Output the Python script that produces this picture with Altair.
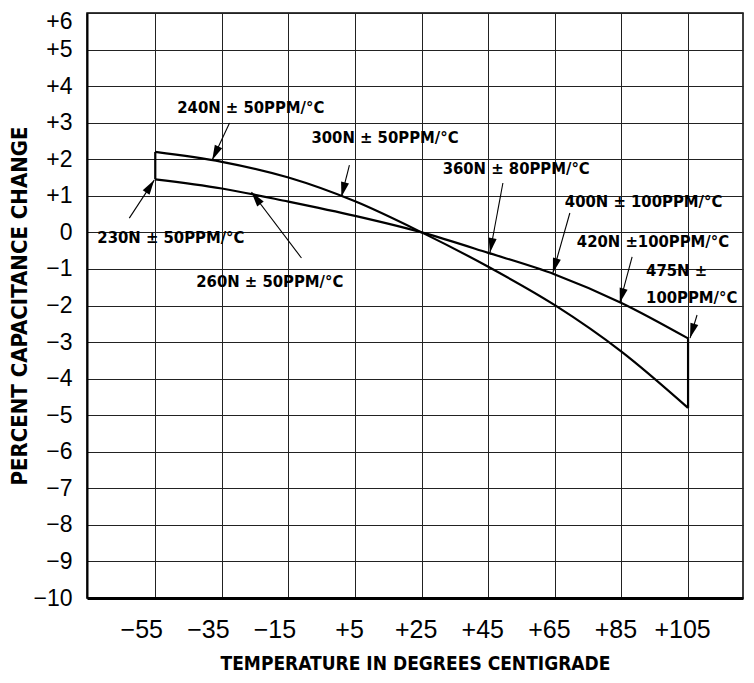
import math
import altair as alt
import pandas as pd

# ---- data ----
temps = [-55, -35, -15, 5, 25, 45, 65, 85, 105]
curve_a = [2.2, 1.93, 1.5, 0.85, 0.0, -0.94, -1.99, -3.26, -4.8]
curve_b = [1.45, 1.2, 0.84, 0.45, 0.0, -0.56, -1.15, -1.93, -2.9]

x_ticks = [-55, -35, -15, 5, 25, 45, 65, 85, 105]
y_ticks = list(range(-10, 7))

end_x = [-55, 105]
end_lo = [1.45, -4.8]
end_hi = [2.2, -2.9]

labels = ["240N \u00b1 50PPM/\u00b0C", "300N \u00b1 50PPM/\u00b0C", "360N \u00b1 80PPM/\u00b0C",
          "400N \u00b1 100PPM/\u00b0C", "420N \u00b1100PPM/\u00b0C", "475N \u00b1",
          "100PPM/\u00b0C", "230N \u00b1 50PPM/\u00b0C", "260N \u00b1 50PPM/\u00b0C"]
label_x = [-48.4, -8.1, 31.3, 68.0, 71.6, 92.4, 92.4, -72.4, -42.7]
label_y = [3.40, 2.58, 1.73, 0.83, -0.26, -1.07, -1.80, -0.15, -1.36]

arrow_x0 = [-32.7, 3.3, 49.4, 69.5, 88.2, 107.7, -62.8, -11.1]
arrow_y0 = [2.99, 1.84, 1.35, 0.53, -0.67, -2.26, 0.39, -0.70]
arrow_x1 = [-37.9, 0.9, 45.5, 64.4, 84.5, 105.6, -55.3, -26.1]
arrow_y1 = [1.98, 0.97, -0.56, -1.11, -1.93, -2.89, 1.43, 1.10]

X_DOMAIN = [-75.5, 121.5]
Y_DOMAIN = [-10, 6]
W, H = 656, 585

COND = "DejaVu Sans Condensed, sans-serif"

# ---- tables ----
curves = pd.DataFrame({
    "t": temps + temps,
    "v": curve_a + curve_b,
    "s": ["A"] * len(temps) + ["B"] * len(temps),
})
ends = pd.DataFrame({"x": end_x, "y": end_lo, "y2": end_hi})
texts = pd.DataFrame({"x": label_x, "y": label_y, "t": labels})

px_x = W / (X_DOMAIN[1] - X_DOMAIN[0])
px_y = H / (Y_DOMAIN[1] - Y_DOMAIN[0])
angles = []
for a, b, c, d in zip(arrow_x0, arrow_y0, arrow_x1, arrow_y1):
    dx = (c - a) * px_x
    dy = (d - b) * px_y
    angles.append(math.degrees(math.atan2(dx, dy)) % 360)
arrows = pd.DataFrame({"x0": arrow_x0, "y0": arrow_y0, "x1": arrow_x1,
                       "y1": arrow_y1, "ang": angles})

xs = alt.Scale(domain=X_DOMAIN, nice=False, zero=False)
ys = alt.Scale(domain=Y_DOMAIN, nice=False, zero=False)

sign_expr = ("datum.value > 0 ? '+' + datum.value : "
             "(datum.value < 0 ? '\u2212' + abs(datum.value) : '0')")

x_axis = alt.Axis(values=x_ticks, tickCount=len(x_ticks), grid=True,
                  gridColor="#222", gridWidth=1,
                  ticks=False, labelExpr=sign_expr, labelFont="Liberation Sans",
                  labelFontSize=25, labelPadding=19, labelColor="black",
                  labelOverlap=False,
                  labelOffset=alt.condition("datum.value < 0", alt.value(-14), alt.value(-6)),
                  domainColor="black", domainWidth=3,
                  title="TEMPERATURE IN DEGREES CENTIGRADE",
                  titleFont=COND, titleFontSize=19, titleFontWeight="bold",
                  titleColor="black", titlePadding=12)
y_axis = alt.Axis(values=y_ticks, tickCount=len(y_ticks), grid=True,
                  gridColor="#222", gridWidth=1,
                  ticks=False, labelExpr=sign_expr, labelFont="Liberation Sans",
                  labelFontSize=23, labelPadding=15, labelColor="black",
                  labelOverlap=False,
                  labelOffset=alt.condition("datum.value == 6", alt.value(8), alt.value(0)),
                  domainColor="black", domainWidth=2,
                  title="PERCENT CAPACITANCE CHANGE",
                  titleFont=COND, titleFontSize=22, titleFontWeight="bold",
                  titleColor="black", titlePadding=1)

base_lines = alt.Chart(curves).mark_line(color="black", strokeWidth=2.2,
                                         interpolate="monotone").encode(
    x=alt.X("t:Q", scale=xs, axis=x_axis),
    y=alt.Y("v:Q", scale=ys, axis=y_axis),
    detail="s:N",
)

end_rules = alt.Chart(ends).mark_rule(color="black", strokeWidth=2.2).encode(
    x="x:Q", y="y:Q", y2="y2:Q")

arrow_lines = alt.Chart(arrows).mark_rule(color="black", strokeWidth=1.1).encode(
    x="x0:Q", y="y0:Q", x2="x1:Q", y2="y1:Q")

arrow_heads = alt.Chart(arrows).mark_point(
    shape="M0,0L0.55,2L-0.55,2Z", filled=True, color="black", opacity=1,
    size=220, strokeWidth=0).encode(
    x="x1:Q", y="y1:Q", angle=alt.Angle("ang:Q", scale=None))

text_marks = alt.Chart(texts).mark_text(
    align="left", baseline="middle", font=COND,
    fontWeight="bold", fontSize=16.5, color="black").encode(
    x="x:Q", y="y:Q", text="t:N")

chart = alt.layer(base_lines, end_rules, arrow_lines, arrow_heads, text_marks).properties(
    width=W, height=H,
    autosize=alt.AutoSizeParams(type="none"),
    padding={"left": 79, "top": 5, "right": 3, "bottom": 77},
    background="white",
).configure_view(stroke="black", strokeWidth=1.5)

chart.save("out.html", embed_options={"renderer": "svg", "actions": False})
